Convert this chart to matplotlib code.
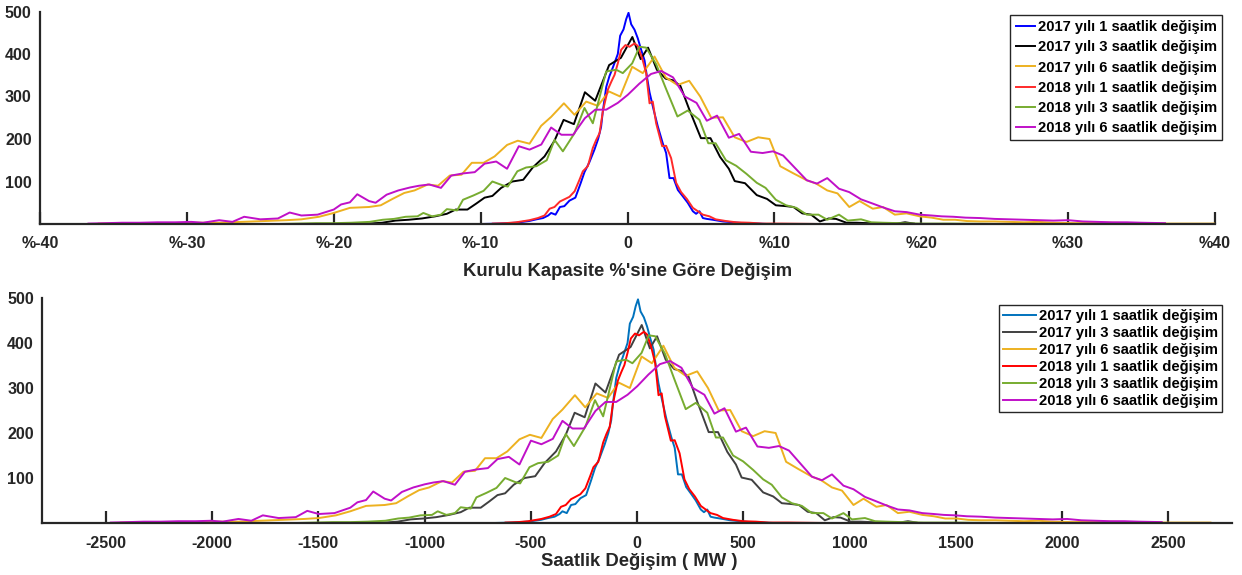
import numpy as np
import matplotlib
matplotlib.use('Agg')
import matplotlib.pyplot as plt

# histogram vertices (x in % of installed capacity, y = counts)
x_2017_1h = [-9.96, -8.7, -7.6, -6.7, -6.2, -5.75, -5.4, -5.2, -4.9, -4.6, -4.3, -3.95, -3.55, -3.2,
             -2.93, -2.6, -2.25, -2.0, -1.8, -1.68, -1.45, -1.23, -1.0, -0.66, -0.5, -0.27, -0.09, 0.07,
             0.25, 0.48, 0.7, 0.93, 1.16, 1.34, 1.5, 1.77, 2.06, 2.4, 2.63, 2.86, 3.13, 3.43, 3.77, 4.1,
             4.45, 4.67, 4.9, 5.13, 5.4, 5.8, 6.5, 7.2, 7.85, 8.8, 9.5, 11.4]
y_2017_1h = [0, 1, 3, 7, 11, 14, 20, 26, 22, 40, 42, 55, 62, 95,
             122, 145, 175, 200, 228, 265, 322, 348, 368, 400, 443, 458, 482, 497,
             470, 457, 437, 410, 385, 343, 310, 270, 230, 190, 167, 108, 108, 80, 65, 50,
             30, 24, 30, 14, 12, 10, 6, 4, 2, 1, 0, 0]

x_2017_3h = [-18.3, -17.6, -16.7, -15.8, -14.9, -14.0, -13.1, -12.3, -11.7, -10.9, -10.3, -9.73, -9.2,
             -8.6, -7.84, -7.1, -6.45, -5.65, -4.97, -4.35, -3.65, -2.9, -2.2, -1.25, -0.45, 0.33, 0.9,
             1.4, 2.0, 2.6, 3.1, 3.6, 4.2, 5.0, 5.65, 6.3, 6.9, 7.3, 8.0, 8.8, 9.5, 10.1, 10.8, 11.3,
             11.9, 12.5, 13.1, 13.7, 14.2, 14.9, 15.6, 16.3, 17.0, 17.6, 18.3, 18.9, 19.5]
y_2017_3h = [0, 1, 3, 8, 10, 13, 18, 24, 34, 34, 48, 62, 66,
             85, 100, 104, 133, 159, 196, 245, 235, 310, 290, 374, 391, 440, 388,
             415, 363, 342, 338, 325, 270, 202, 202, 158, 130, 101, 96, 68, 59, 44, 42, 40,
             25, 22, 6, 13, 12, 3, 3, 2, 2, 1, 1, 4, 1]

x_2017_6h = [-36.0, -33.0, -30.8, -29.2, -27.8, -26.3, -24.7, -23.2, -22.2, -21.0, -20.0, -18.9, -17.6,
             -16.8, -16.0, -15.2, -14.5, -13.6, -12.9, -12.1, -11.3, -10.6, -9.8, -9.05, -8.2, -7.47,
             -6.67, -5.88, -5.2, -4.33, -3.61, -2.81, -2.02, -1.27, -0.5, 0.32, 1.04, 1.84, 2.6, 3.4,
             4.2, 4.95, 5.7, 6.5, 7.3, 8.1, 8.9, 9.67, 10.4, 11.25, 12.2, 12.85, 13.6, 14.3, 15.1,
             15.8, 16.7, 17.4, 18.2, 19.0, 19.9, 20.7, 21.5, 22.3, 23.1, 24.0, 25.0, 26.0, 27.0, 28.0,
             29.0, 30.5, 32.0, 33.0, 34.5, 36.0, 38.0, 40.0]
y_2017_6h = [1, 2, 2, 3, 3, 5, 7, 9, 11, 17, 26, 38, 40,
             44, 59, 73, 79, 93, 90, 114, 116, 144, 144, 159, 186, 196,
             189, 231, 252, 284, 257, 288, 278, 312, 300, 370, 355, 394, 345, 327,
             337, 300, 250, 251, 204, 193, 204, 200, 136, 120, 103, 95, 79, 72, 40,
             54, 36, 40, 22, 25, 18, 15, 10, 10, 7, 6, 6, 5, 4, 5,
             3, 2, 3, 3, 2, 1, 1, 1]

x_2018_1h = [-9.17, -8.3, -7.58, -6.67, -6.1, -5.65, -5.3, -4.97, -4.6, -4.3, -3.95, -3.6, -3.27,
             -3.04, -2.7, -2.36, -2.13, -1.9, -1.68, -1.34, -1.1, -0.88, -0.66, -0.43, -0.14, 0.14,
             0.48, 0.7, 1.0, 1.27, 1.5, 1.72, 1.95, 2.36, 2.63, 2.97, 3.31, 3.65, 4.04, 4.45, 4.79,
             5.13, 5.58, 6.0, 6.7, 7.4, 8.3, 9.2, 10.5, 13.2]
y_2018_1h = [1, 2, 4, 9, 14, 20, 36, 40, 53, 58, 64, 77, 104,
             124, 136, 179, 198, 214, 265, 316, 335, 351, 378, 410, 421, 417,
             425, 419, 390, 355, 284, 288, 237, 183, 184, 155, 97, 75, 59, 38, 30,
             22, 18, 11, 7, 4, 3, 1, 1, 0]

x_2018_3h = [-23.8, -22.5, -21.2, -20.0, -18.8, -17.56, -16.66, -15.9, -15.1, -14.3, -13.9, -13.3,
             -12.7, -12.3, -11.6, -11.2, -10.5, -9.8, -9.2, -8.5, -8.15, -7.5, -6.9, -6.2, -5.5,
             -4.97, -4.4, -3.6, -2.93, -2.36, -1.45, -0.77, -0.32, 0.32, 0.82, 1.27, 1.95, 2.6, 3.4,
             4.1, 4.9, 5.5, 6.0, 6.7, 7.4, 8.1, 8.8, 9.4, 10.1, 10.8, 11.5, 12.2, 13.0, 13.6, 14.4,
             15.0, 15.9, 16.6, 17.4, 18.5, 20.0, 22.0, 25.0, 27.0]
y_2018_3h = [0, 1, 2, 2, 3, 5, 10, 12, 17, 18, 26, 18,
             22, 35, 32, 57, 67, 78, 100, 91, 88, 124, 133, 136, 150,
             198, 171, 214, 273, 237, 359, 363, 355, 378, 417, 415, 376, 320, 253,
             267, 245, 190, 190, 150, 137, 118, 97, 85, 57, 44, 38, 22, 22, 10, 22,
             8, 11, 4, 3, 2, 1, 1, 0, 0]

x_2018_6h = [-36.7, -35.5, -34.4, -33.2, -32.0, -30.8, -29.7, -28.9, -27.8, -26.9, -26.1, -25.0,
             -23.8, -23.0, -22.2, -21.1, -20.0, -19.5, -18.9, -18.4, -17.6, -17.15, -16.4, -15.6,
             -14.8, -14.2, -13.5, -12.7, -12.0, -11.2, -10.4, -9.73, -8.94, -8.2, -7.4, -6.67, -5.87,
             -5.2, -4.5, -3.7, -2.9, -2.2, -1.45, -0.66, 0.02, 0.8, 1.6, 2.3, 3.1, 3.9, 4.7, 5.4,
             6.1, 6.9, 7.6, 8.4, 9.2, 9.9, 10.6, 11.4, 12.2, 12.9, 13.6, 14.4, 15.1, 15.9, 16.7,
             17.4, 18.2, 19.0, 19.9, 20.7, 21.4, 22.2, 23.0, 24.0, 25.0, 26.0, 27.0, 28.0, 29.0,
             30.0, 31.0, 32.0, 33.0, 34.0, 35.0, 36.6]
y_2018_6h = [1, 2, 3, 3, 4, 4, 5, 3, 9, 5, 17, 11,
             13, 27, 20, 22, 34, 46, 51, 70, 54, 50, 69, 79,
             86, 90, 93, 85, 114, 119, 122, 142, 147, 130, 183, 175, 187,
             227, 210, 210, 249, 269, 269, 285, 304, 330, 353, 360, 345, 300, 285, 243,
             255, 203, 212, 170, 167, 171, 161, 132, 103, 95, 108, 83, 75, 58, 48,
             39, 30, 28, 22, 20, 18, 17, 15, 14, 12, 11, 10, 9, 8,
             9, 6, 5, 4, 4, 3, 2]

mw_per_pct = 67.5  # 1 % of installed capacity in MW

labels = ["2017 yılı 1 saatlik değişim", "2017 yılı 3 saatlik değişim", "2017 yılı 6 saatlik değişim",
          "2018 yılı 1 saatlik değişim", "2018 yılı 3 saatlik değişim", "2018 yılı 6 saatlik değişim"]
seriesX = [x_2017_1h, x_2017_3h, x_2017_6h, x_2018_1h, x_2018_3h, x_2018_6h]
seriesY = [y_2017_1h, y_2017_3h, y_2017_6h, y_2018_1h, y_2018_3h, y_2018_6h]

colorsTop = ['#0000ff', '#000000', '#edb120', '#ff2a2a', '#77ac30', '#c010c8']
colorsBottom = ['#0072bd', '#404040', '#edb120', '#ff0000', '#77ac30', '#c010c8']

pctTicks = [-40, -30, -20, -10, 0, 10, 20, 30, 40]
pctTickLabels = ['%-40', '%-30', '%-20', '%-10', '0', '%10', '%20', '%30', '%40']
mwTicks = [-2500, -2000, -1500, -1000, -500, 0, 500, 1000, 1500, 2000, 2500]
yTicks = [100, 200, 300, 400, 500]

plt.rcParams['font.family'] = ['Liberation Sans', 'DejaVu Sans']
plt.rcParams['font.weight'] = 'bold'
plt.rcParams['axes.unicode_minus'] = False
GRIS = '#262626'

fig = plt.figure(figsize=(12.42, 5.75), dpi=100)
W, H = 1242.0, 575.0
ax1 = fig.add_axes([40 / W, 1 - 224 / H, 1175 / W, 212.5 / H])
ax2 = fig.add_axes([42.3 / W, 1 - 523 / H, 1189.4 / W, 225 / H])


def styleAxes(ax):
    for s in ['top', 'right']:
        ax.spines[s].set_visible(False)
    for s in ['left', 'bottom']:
        ax.spines[s].set_linewidth(1.6)
        ax.spines[s].set_color(GRIS)
    ax.tick_params(axis='x', direction='in', length=9, width=1.6, colors=GRIS, labelsize=11.5, pad=9)
    ax.tick_params(axis='y', direction='in', length=0, width=1.6, colors=GRIS, labelsize=11.5, pad=6)
    for t in ax.get_xticklabels() + ax.get_yticklabels():
        t.set_fontweight('bold')


lines = []
for i in range(6):
    l, = ax1.plot(seriesX[i], seriesY[i], color=colorsTop[i], lw=1.4, label=labels[i])
    lines.append(l)
ax1.set_xlim(-40, 40)
ax1.set_ylim(0, 500)
ax1.set_xticks(pctTicks)
ax1.set_xticklabels(pctTickLabels)
ax1.set_yticks(yTicks)
styleAxes(ax1)

for i in range(6):
    ax2.plot(np.array(seriesX[i]) * mw_per_pct, seriesY[i], color=colorsBottom[i], lw=1.4, label=labels[i])
ax2.set_xlim(-2800, 2800)
ax2.set_ylim(0, 500)
ax2.set_xticks(mwTicks)
ax2.set_yticks(yTicks)
styleAxes(ax2)

leg1 = ax1.legend(loc='upper right', bbox_to_anchor=(1222 / W, 1 - 15 / H), bbox_transform=fig.transFigure,
                  fontsize=10.6, handlelength=1.3, handletextpad=0.2, labelspacing=0.42, borderpad=0.35,
                  borderaxespad=0, fancybox=False, framealpha=1, edgecolor=GRIS)
leg1.get_frame().set_linewidth(1.0)
leg2 = ax2.legend(loc='upper right', bbox_to_anchor=(1222 / W, 1 - 305 / H), bbox_transform=fig.transFigure,
                  fontsize=10.6, handlelength=2.2, handletextpad=0.2, labelspacing=0.2, borderpad=0.28,
                  borderaxespad=0, fancybox=False, framealpha=1, edgecolor=GRIS)
leg2.get_frame().set_linewidth(1.0)
for leg in [leg1, leg2]:
    for t in leg.get_texts():
        t.set_fontweight('bold')

fig.text(628 / W, 1 - 271 / H, "Kurulu Kapasite %'sine Göre Değişim", ha='center', va='center',
         fontsize=13.3, fontweight='bold', color=GRIS)
fig.text(639 / W, 1 - 561 / H, "Saatlik Değişim ( MW )", ha='center', va='center',
         fontsize=13.3, fontweight='bold', color=GRIS)

fig.savefig('out.png', dpi=100)
